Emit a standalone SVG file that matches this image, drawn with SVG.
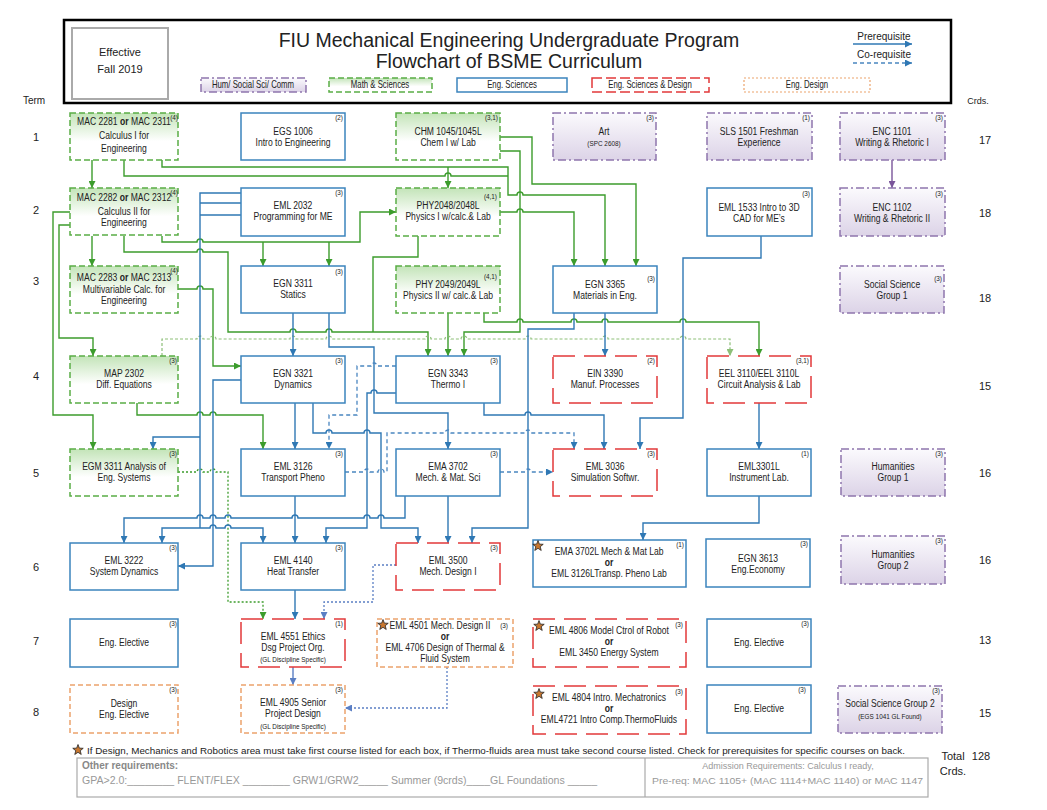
<svg xmlns="http://www.w3.org/2000/svg" width="1047" height="810" viewBox="0 0 1047 810">
<style>
text{font-family:"Liberation Sans",Arial,sans-serif;fill:#222}
.t{font-size:11px;text-anchor:middle;transform-box:fill-box;transform-origin:center;transform:scaleX(.78)}
.ts{font-size:7.5px;text-anchor:middle;transform-box:fill-box;transform-origin:center;transform:scaleX(.85)}
.cr{font-size:7.5px;text-anchor:end;transform-box:fill-box;transform-origin:right center;transform:scaleX(.85)}
.lab{font-size:11px;text-anchor:middle}
.ms{fill:url(#gg);stroke:#5aad45;stroke-width:1.5;stroke-dasharray:6 3}
.es{fill:#fff;stroke:#3b84bd;stroke-width:1.5}
.esd{fill:#fff;stroke:#e2383a;stroke-width:1.5;stroke-dasharray:22 9}
.ed{fill:#fff;stroke:#eba36c;stroke-width:1.5;stroke-dasharray:5 3}
.hum{fill:url(#gp);stroke:#8f76ad;stroke-width:1.5;stroke-dasharray:8 3 2 3}
.g{fill:none;stroke:#3c9c2c;stroke-width:1.4;marker-end:url(#aG)}
.gn{fill:none;stroke:#3c9c2c;stroke-width:1.4}
.gd{fill:none;stroke:#8dbf78;stroke-width:1.2;stroke-dasharray:3 2;marker-end:url(#aGL)}
.gdot{fill:none;stroke:#3c9c2c;stroke-width:1.3;stroke-dasharray:2 2;marker-end:url(#aG)}
.b{fill:none;stroke:#2f78b4;stroke-width:1.4;marker-end:url(#aB)}
.bn{fill:none;stroke:#2f78b4;stroke-width:1.4}
.bd{fill:none;stroke:#4a86c0;stroke-width:1.3;stroke-dasharray:4 3;marker-end:url(#aB)}
.bdot{fill:none;stroke:#5b7fc4;stroke-width:1.3;stroke-dasharray:2 2;marker-end:url(#aB2)}
</style>
<defs>
<linearGradient id="gg" x1="0" y1="0" x2="0" y2="1"><stop offset="0" stop-color="#c3e4b8"/><stop offset="0.6" stop-color="#ffffff"/></linearGradient>
<linearGradient id="gp" x1="0" y1="0" x2="0" y2="1"><stop offset="0" stop-color="#fbfafd"/><stop offset="1" stop-color="#dcd3e7"/></linearGradient>
<marker id="aG" viewBox="0 0 8 8" refX="8" refY="4" markerWidth="7" markerHeight="7" markerUnits="userSpaceOnUse" orient="auto"><path d="M0,0L8,4L0,8z" fill="#3c9c2c"/></marker>
<marker id="aGL" viewBox="0 0 8 8" refX="8" refY="4" markerWidth="7" markerHeight="7" markerUnits="userSpaceOnUse" orient="auto"><path d="M0,0L8,4L0,8z" fill="#8dbf78"/></marker>
<marker id="aB" viewBox="0 0 8 8" refX="8" refY="4" markerWidth="7" markerHeight="7" markerUnits="userSpaceOnUse" orient="auto"><path d="M0,0L8,4L0,8z" fill="#2f78b4"/></marker>
<marker id="aB2" viewBox="0 0 8 8" refX="8" refY="4" markerWidth="7" markerHeight="7" markerUnits="userSpaceOnUse" orient="auto"><path d="M0,0L8,4L0,8z" fill="#5b7fc4"/></marker>
<marker id="aP" viewBox="0 0 8 8" refX="8" refY="4" markerWidth="7" markerHeight="7" markerUnits="userSpaceOnUse" orient="auto"><path d="M0,0L8,4L0,8z" fill="#7a559a"/></marker>
<polygon id="star" points="0,-5.5 1.35,-1.86 5.23,-1.7 2.19,0.71 3.23,4.45 0,2.3 -3.23,4.45 -2.19,0.71 -5.23,-1.7 -1.35,-1.86" fill="#c8772f" stroke="#222" stroke-width="0.8"/>
</defs>
<rect width="1047" height="810" fill="#fff"/>

<g id="header">
<rect x="64" y="20" width="887" height="83" fill="#fff" stroke="#000" stroke-width="2.5"/>
<rect x="72" y="28" width="96" height="71" fill="#fff" stroke="#aaa" stroke-width="2"/>
<text class="lab" x="120" y="56">Effective</text>
<text class="lab" x="120" y="73">Fall 2019</text>
<text class="lab" x="509" y="47" style="font-size:19.5px">FIU Mechanical Engineering Undergraduate Program</text>
<text class="lab" x="509" y="68" style="font-size:19.5px">Flowchart of BSME Curriculum</text>
<rect class="hum" x="201" y="78" width="105" height="14"/>
<text class="t" x="253" y="88.5" style="font-size:10px">Hum/ Social Sci/ Comm</text>
<rect class="ms" x="329" y="78" width="103" height="14"/>
<text class="t" x="380" y="88.5" style="font-size:10px">Math &amp; Sciences</text>
<rect class="es" x="457" y="78" width="110" height="14"/>
<text class="t" x="512" y="88.5" style="font-size:10px">Eng. Sciences</text>
<rect class="esd" x="592" y="78" width="117" height="14" style="stroke-dasharray:10 4"/>
<text class="t" x="650" y="88.5" style="font-size:10px">Eng. Sciences &amp; Design</text>
<rect class="ed" x="744" y="78" width="126" height="14" style="stroke-dasharray:2 2;stroke-width:1.2"/>
<text class="t" x="807" y="88.5" style="font-size:10px">Eng.  Design</text>
<text class="lab" x="884" y="40" style="font-size:10px">Prerequisite</text>
<path class="b" d="M853,44H912"/>
<text class="lab" x="884" y="58" style="font-size:10px">Co-requisite</text>
<path class="bd" d="M853,63H912"/>
</g>

<g id="labels">
<text class="lab" x="34" y="104" style="font-size:10px">Term</text>
<text class="lab" x="978" y="104" style="font-size:9px">Crds.</text>
<text class="lab" x="36" y="141">1</text>
<text class="lab" x="36" y="214">2</text>
<text class="lab" x="36" y="285">3</text>
<text class="lab" x="36" y="380">4</text>
<text class="lab" x="36" y="477">5</text>
<text class="lab" x="36" y="571">6</text>
<text class="lab" x="36" y="645">7</text>
<text class="lab" x="36" y="716">8</text>
<text class="lab" x="985" y="144">17</text>
<text class="lab" x="985" y="217">18</text>
<text class="lab" x="985" y="302">18</text>
<text class="lab" x="985" y="390">15</text>
<text class="lab" x="985" y="477">16</text>
<text class="lab" x="985" y="564">16</text>
<text class="lab" x="985" y="644">13</text>
<text class="lab" x="985" y="717">15</text>
</g>

<g id="connectors">
<path class="g" d="M92,160V188"/>
<path class="g" d="M162,160V167H508V195H517A3,3 0 0 1 523,195H605V266"/>
<path class="g" d="M448,167V188"/>
<path class="gn" d="M124,160V176H445A3,3 0 0 1 451,176H508"/>
<path class="g" d="M500,137H532V184H636V266"/>
<path class="g" d="M500,151H520V332H464V356"/>
<path class="g" d="M500,212H517A3,3 0 0 1 523,212H574V266"/>
<path class="g" d="M162,236V242H197A3,3 0 0 1 203,242H360V212H396"/>
<path class="g" d="M263,242V266"/>
<path class="g" d="M329,242V266"/>
<path class="g" d="M92,236V266"/>
<path class="g" d="M124,236V252H197A3,3 0 0 1 203,252H228V332H290A3,3 0 0 1 296,332H326A3,3 0 0 1 332,332H428V356"/>
<path class="gn" d="M418,236V257H373V332"/>
<path class="g" d="M448,313V356"/>
<path class="g" d="M484,313V322H517A3,3 0 0 1 523,322H571A3,3 0 0 1 577,322H602A3,3 0 0 1 608,322H680A3,3 0 0 1 686,322H759V356"/>
<path class="g" d="M70,212H53V415H93V449"/>
<path class="g" d="M70,225H59V338H93V356"/>
<path class="g" d="M178,289H197A3,3 0 0 1 203,289H213V366H241"/>
<path class="g" d="M137,403V415H197A3,3 0 0 1 203,415H210A3,3 0 0 1 216,415H263V449"/>
<path class="gd" d="M162,356V339H197A3,3 0 0 1 203,339H210A3,3 0 0 1 216,339H290A3,3 0 0 1 296,339H326A3,3 0 0 1 332,339H425A3,3 0 0 1 431,339H445A3,3 0 0 1 451,339H461A3,3 0 0 1 467,339H525A3,3 0 0 1 531,339H602A3,3 0 0 1 608,339H680A3,3 0 0 1 686,339H730V356"/>
<path class="gdot" d="M178,472H197A3,3 0 0 1 203,472H210A3,3 0 0 1 216,472H228V602H263V619"/>
<path class="b" d="M293,313V356"/>
<path class="b" d="M329,313V347H374V413H448V449"/>
<path class="b" d="M484,403V415H525A3,3 0 0 1 531,415H604V449"/>
<path class="b" d="M574,313V329H528V528H472V543"/>
<path class="b" d="M605,313V356"/>
<path class="b" d="M761,236V258H683V418H640V449"/>
<path class="b" d="M759,403V449"/>
<path class="b" d="M759,496V523H643V540"/>
<path class="b" d="M295,403V449"/>
<path class="b" d="M241,380H213V566H178"/>
<path class="bn" d="M241,193H200V528M241,203H200M241,215H200"/>
<path class="b" d="M200,437H153V449"/>
<path class="b" d="M200,528H162V543"/>
<path class="b" d="M200,528H210A3,3 0 0 1 216,528H225A3,3 0 0 1 231,528H263V543"/>
<path class="b" d="M295,496V543"/>
<path class="b" d="M448,496V543"/>
<path class="b" d="M313,403V433H326A3,3 0 0 1 332,433H364A3,3 0 0 1 370,433H381V528H418V543"/>
<path class="b" d="M396,393H377A3,3 0 0 0 371,393H367V528H326V543"/>
<path class="b" d="M405,496V518H384A3,3 0 0 0 378,518H370A3,3 0 0 0 364,518H298A3,3 0 0 0 292,518H231A3,3 0 0 0 225,518H216A3,3 0 0 0 210,518H203A3,3 0 0 0 197,518H124V543"/>
<path class="bd" d="M396,366H377A3,3 0 0 0 371,366H357V415H329V449"/>
<path class="bd" d="M345,472H364A3,3 0 0 1 370,472H378A3,3 0 0 1 384,472H387V433H445A3,3 0 0 1 451,433H525A3,3 0 0 1 531,433H574V449"/>
<path class="bd" d="M500,472H525A3,3 0 0 1 531,472H553"/>
<path class="bdot" d="M396,565H373V602H324V619"/>
<path class="bdot" d="M447,667V708H345"/>
<path class="b" d="M295,590V619"/>
<path class="b" d="M293,667V685" style="stroke:#5b7fc4;marker-end:url(#aB2)"/>
<path d="M892,160V188" fill="none" stroke="#7a559a" stroke-width="1.4" marker-end="url(#aP)"/>
</g>

<g id="n_mac2281"><rect class="ms" x="70" y="113" width="108" height="47"/><text class="t" x="124" y="125">MAC 2281 <tspan font-weight="bold">or</tspan> MAC 2311</text><text class="t" x="124" y="139">Calculus I for</text><text class="t" x="124" y="152">Engineering</text><text class="cr" x="178" y="120">(4)</text></g>
<g id="n_egs1006"><rect class="es" x="241" y="113" width="104" height="47"/><text class="t" x="293" y="135">EGS 1006</text><text class="t" x="293" y="146">Intro to Engineering</text><text class="cr" x="343" y="120">(2)</text></g>
<g id="n_chm1045"><rect class="ms" x="396" y="113" width="104" height="47"/><text class="t" x="448" y="135">CHM 1045/1045L</text><text class="t" x="448" y="146">Chem I w/ Lab</text><text class="cr" x="498" y="120">(3,1)</text></g>
<g id="n_art"><rect class="hum" x="553" y="113" width="103" height="47"/><text class="t" x="604" y="135">Art</text><text class="ts" x="604" y="146">(SPC 2608)</text><text class="cr" x="654" y="120">(3)</text></g>
<g id="n_sls1501"><rect class="hum" x="707" y="113" width="105" height="47"/><text class="t" x="759" y="135">SLS 1501 Freshman</text><text class="t" x="759" y="146">Experience</text><text class="cr" x="810" y="120">(1)</text></g>
<g id="n_enc1101"><rect class="hum" x="840" y="113" width="105" height="47"/><text class="t" x="892" y="135">ENC 1101</text><text class="t" x="892" y="146">Writing &amp; Rhetoric I</text><text class="cr" x="943" y="120">(3)</text></g>

<g id="n_mac2282"><rect class="ms" x="70" y="188" width="108" height="47"/><text class="t" x="124" y="201">MAC 2282 <tspan font-weight="bold">or</tspan> MAC 2312</text><text class="t" x="124" y="215">Calculus II for</text><text class="t" x="124" y="226">Engineering</text><text class="cr" x="178" y="195">(4)</text></g>
<g id="n_eml2032"><rect class="es" x="241" y="188" width="104" height="48"/><text class="t" x="293" y="209">EML 2032</text><text class="t" x="293" y="220">Programming for ME</text><text class="cr" x="343" y="195">(3)</text></g>
<g id="n_phy2048"><rect class="ms" x="396" y="188" width="104" height="48"/><text class="t" x="448" y="209">PHY2048/2048L</text><text class="t" x="448" y="220">Physics I w/calc.&amp; Lab</text><text class="cr" x="497" y="199">(4,1)</text></g>
<g id="n_eml1533"><rect class="es" x="707" y="188" width="105" height="48"/><text class="t" x="759" y="211">EML 1533  Intro to 3D</text><text class="t" x="759" y="222">CAD for ME’s</text><text class="cr" x="810" y="196">(3)</text></g>
<g id="n_enc1102"><rect class="hum" x="840" y="188" width="105" height="48"/><text class="t" x="892" y="211">ENC 1102</text><text class="t" x="892" y="222">Writing &amp; Rhetoric II</text><text class="cr" x="943" y="196">(3)</text></g>

<g id="n_mac2283"><rect class="ms" x="70" y="266" width="108" height="47"/><text class="t" x="124" y="281">MAC 2283 <tspan font-weight="bold">or</tspan> MAC 2313</text><text class="t" x="124" y="293">Multivariable Calc. for</text><text class="t" x="124" y="304">Engineering</text><text class="cr" x="178" y="273">(4)</text></g>
<g id="n_egn3311"><rect class="es" x="241" y="266" width="104" height="47"/><text class="t" x="293" y="287">EGN 3311</text><text class="t" x="293" y="298">Statics</text><text class="cr" x="343" y="274">(3)</text></g>
<g id="n_phy2049"><rect class="ms" x="396" y="266" width="104" height="47"/><text class="t" x="448" y="288">PHY 2049/2049L</text><text class="t" x="448" y="299">Physics II w/ calc.&amp; Lab</text><text class="cr" x="497" y="279">(4,1)</text></g>
<g id="n_egn3365"><rect class="es" x="553" y="266" width="104" height="47"/><text class="t" x="605" y="288">EGN 3365</text><text class="t" x="605" y="299">Materials in Eng.</text><text class="cr" x="655" y="281">(3)</text></g>
<g id="n_ss1"><rect class="hum" x="840" y="266" width="104" height="47"/><text class="t" x="892" y="288">Social Science</text><text class="t" x="892" y="299">Group 1</text><text class="cr" x="942" y="281">(3)</text></g>

<g id="n_map2302"><rect class="ms" x="70" y="356" width="108" height="47"/><text class="t" x="124" y="377">MAP  2302</text><text class="t" x="124" y="388">Diff. Equations</text><text class="cr" x="177" y="363">(3)</text></g>
<g id="n_egn3321"><rect class="es" x="241" y="356" width="104" height="47"/><text class="t" x="293" y="377">EGN 3321</text><text class="t" x="293" y="388">Dynamics</text><text class="cr" x="343" y="363">(3)</text></g>
<g id="n_egn3343"><rect class="es" x="396" y="356" width="104" height="47"/><text class="t" x="448" y="377">EGN 3343</text><text class="t" x="448" y="388">Thermo I</text><text class="cr" x="498" y="363">(3)</text></g>
<g id="n_ein3390"><rect class="esd" x="553" y="356" width="104" height="47"/><text class="t" x="605" y="377">EIN 3390</text><text class="t" x="605" y="388">Manuf. Processes</text><text class="cr" x="655" y="363">(2)</text></g>
<g id="n_eel3110"><rect class="esd" x="707" y="356" width="104" height="47"/><text class="t" x="759" y="377">EEL 3110/EEL 3110L</text><text class="t" x="759" y="388">Circuit Analysis &amp; Lab</text><text class="cr" x="809" y="363">(3,1)</text></g>

<g id="n_egm3311"><rect class="ms" x="70" y="449" width="108" height="47"/><text class="t" x="124" y="470">EGM 3311 Analysis of</text><text class="t" x="124" y="481">Eng. Systems</text><text class="cr" x="177" y="456">(3)</text></g>
<g id="n_eml3126"><rect class="es" x="241" y="449" width="104" height="47"/><text class="t" x="293" y="470">EML 3126</text><text class="t" x="293" y="481">Transport Pheno</text><text class="cr" x="343" y="456">(3)</text></g>
<g id="n_ema3702"><rect class="es" x="396" y="449" width="104" height="47"/><text class="t" x="448" y="470">EMA 3702</text><text class="t" x="448" y="481">Mech. &amp; Mat. Sci</text><text class="cr" x="498" y="456">(3)</text></g>
<g id="n_eml3036"><rect class="esd" x="553" y="449" width="104" height="47"/><text class="t" x="605" y="470">EML 3036</text><text class="t" x="605" y="481">Simulation Softwr.</text><text class="cr" x="655" y="456">(3)</text></g>
<g id="n_eml3301l"><rect class="es" x="707" y="449" width="104" height="47"/><text class="t" x="759" y="470">EML3301L</text><text class="t" x="759" y="481">Instrument Lab.</text><text class="cr" x="809" y="456">(1)</text></g>
<g id="n_hum1"><rect class="hum" x="841" y="449" width="104" height="47"/><text class="t" x="893" y="470">Humanities</text><text class="t" x="893" y="481">Group 1</text><text class="cr" x="943" y="456">(3)</text></g>

<g id="n_eml3222"><rect class="es" x="70" y="543" width="108" height="47"/><text class="t" x="124" y="564">EML 3222</text><text class="t" x="124" y="575">System Dynamics</text><text class="cr" x="177" y="550">(3)</text></g>
<g id="n_eml4140"><rect class="es" x="241" y="543" width="104" height="47"/><text class="t" x="293" y="564">EML 4140</text><text class="t" x="293" y="575">Heat Transfer</text><text class="cr" x="343" y="550">(3)</text></g>
<g id="n_eml3500"><rect class="esd" x="396" y="543" width="104" height="47"/><text class="t" x="448" y="564">EML 3500</text><text class="t" x="448" y="575">Mech. Design I</text><text class="cr" x="498" y="550">(3)</text></g>
<g id="n_ema3702l"><rect class="es" x="533" y="540" width="153" height="47"/><use href="#star" x="538" y="546"/><text class="t" x="609" y="555">EMA 3702L Mech &amp; Mat Lab</text><text class="t" x="609" y="566" font-weight="bold">or</text><text class="t" x="609" y="577">EML 3126LTransp. Pheno Lab</text><text class="cr" x="684" y="547">(1)</text></g>
<g id="n_egn3613"><rect class="es" x="706" y="539" width="104" height="48"/><text class="t" x="758" y="562">EGN 3613</text><text class="t" x="758" y="573">Eng.Economy</text><text class="cr" x="808" y="546">(3)</text></g>
<g id="n_hum2"><rect class="hum" x="841" y="536" width="104" height="48"/><text class="t" x="893" y="558">Humanities</text><text class="t" x="893" y="569">Group 2</text><text class="cr" x="943" y="543">(3)</text></g>

<g id="n_elec7a"><rect class="es" x="70" y="619" width="108" height="48"/><text class="t" x="124" y="646">Eng. Elective</text><text class="cr" x="177" y="626">(3)</text></g>
<g id="n_eml4551"><rect class="esd" x="241" y="619" width="104" height="48"/><text class="t" x="293" y="640">EML 4551 Ethics</text><text class="t" x="293" y="651">Dsg Project Org.</text><text class="ts" x="293" y="662">(GL Discipline Specific)</text><text class="cr" x="343" y="626">(1)</text></g>
<g id="n_eml4501"><rect class="ed" x="377" y="619" width="136" height="48"/><use href="#star" x="383" y="625"/><text class="t" x="440" y="629">EML 4501 Mech. Design II</text><text class="cr" x="508" y="628">(3)</text><text class="t" x="445" y="640" font-weight="bold">or</text><text class="t" x="445" y="651">EML 4706 Design of Thermal &amp;</text><text class="t" x="445" y="662">Fluid System</text></g>
<g id="n_eml4806"><rect class="esd" x="533" y="619" width="153" height="48"/><use href="#star" x="539" y="626"/><text class="t" x="609" y="634">EML 4806 Model Ctrol of Robot</text><text class="t" x="609" y="645" font-weight="bold">or</text><text class="t" x="609" y="656">EML 3450 Energy System</text><text class="cr" x="683" y="627">(3)</text></g>
<g id="n_elec7e"><rect class="es" x="707" y="619" width="104" height="48"/><text class="t" x="759" y="646">Eng. Elective</text><text class="cr" x="809" y="626">(3)</text></g>

<g id="n_delec"><rect class="ed" x="70" y="685" width="108" height="48"/><text class="t" x="124" y="707">Design</text><text class="t" x="124" y="718">Eng. Elective</text><text class="cr" x="177" y="692">(3)</text></g>
<g id="n_eml4905"><rect class="ed" x="241" y="685" width="104" height="48"/><text class="t" x="293" y="706">EML 4905 Senior</text><text class="t" x="293" y="717">Project Design</text><text class="ts" x="293" y="729">(GL Discipline Specific)</text><text class="cr" x="343" y="692">(3)</text></g>
<g id="n_eml4804"><rect class="esd" x="533" y="686" width="153" height="48"/><use href="#star" x="539" y="694"/><text class="t" x="609" y="701">EML 4804 Intro. Mechatronics</text><text class="t" x="609" y="712" font-weight="bold">or</text><text class="t" x="609" y="723">EML4721 Intro Comp.ThermoFluids</text><text class="cr" x="683" y="694">(3)</text></g>
<g id="n_elec8e"><rect class="es" x="707" y="685" width="104" height="48"/><text class="t" x="759" y="712">Eng. Elective</text><text class="cr" x="806" y="692">(3)</text></g>
<g id="n_ss2"><rect class="hum" x="838" y="686" width="104" height="47"/><text class="t" x="890" y="707">Social Science Group 2</text><text class="ts" x="890" y="719">(EGS 1041 GL Found)</text><text class="cr" x="940" y="693">(3)</text></g>

<g id="footer">
<use href="#star" x="78" y="750"/>
<text x="87" y="754" style="font-size:9px" textLength="818" lengthAdjust="spacingAndGlyphs">If Design, Mechanics and Robotics area must take first course listed for each box, if Thermo-fluids area must take  second course listed. Check for prerequisites for specific courses on back.</text>
<rect x="77" y="758" width="851" height="39" fill="none" stroke="#aaa" stroke-width="1.2"/>
<line x1="645" y1="758" x2="645" y2="797" stroke="#aaa" stroke-width="1.2"/>
<text x="82" y="769" style="font-size:10px;fill:#888;font-weight:bold">Other requirements:</text>
<text x="82" y="784" style="font-size:10px;fill:#999" textLength="515" lengthAdjust="spacingAndGlyphs">GPA&gt;2.0:________ FLENT/FLEX ________ GRW1/GRW2_____ Summer (9crds)____GL Foundations _____</text>
<text x="788" y="769" style="font-size:9px;fill:#999;text-anchor:middle">Admission Requirements: Calculus I ready,</text>
<text x="652" y="784" style="font-size:9px;fill:#999" textLength="271" lengthAdjust="spacingAndGlyphs">Pre-req: MAC 1105+ (MAC 1114+MAC 1140) or MAC 1147</text>
<text class="lab" x="953" y="760">Total</text>
<text class="lab" x="981" y="760">128</text>
<text class="lab" x="953" y="775">Crds.</text>
</g>
</svg>
